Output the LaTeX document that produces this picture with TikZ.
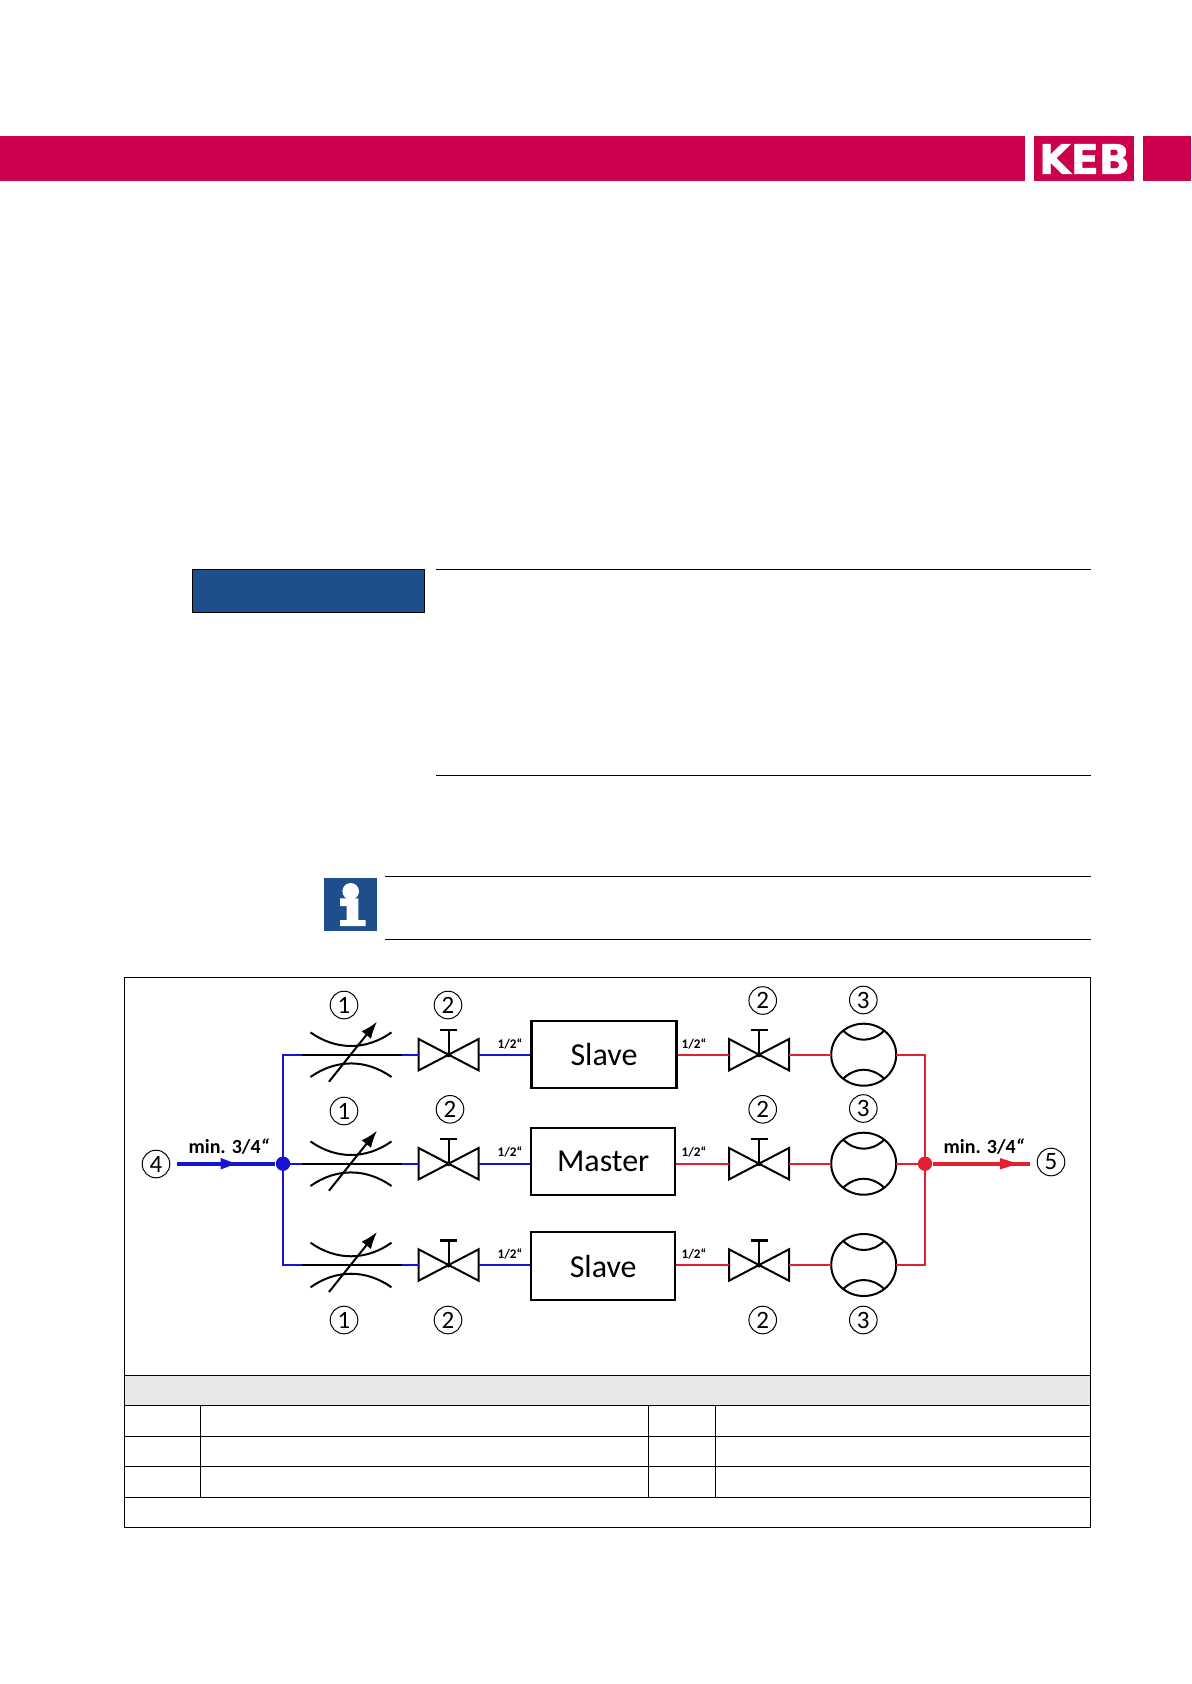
\documentclass[tikz,border=0pt]{standalone}
\usepackage{fontspec}
\setmainfont{Carlito}
\newfontfamily\logofont{DejaVu Sans Bold}[FakeBold=1.2]
\usetikzlibrary{arrows.meta}
\definecolor{kebred}{HTML}{CC004C}
\definecolor{kebblue}{HTML}{1F4E8C}
\definecolor{pipeblue}{HTML}{1414D2}
\definecolor{pipered}{HTML}{E2202F}
\tikzset{
  sym/.style={black,line width=1pt},
  blue pipe/.style={pipeblue,line width=0.8pt},
  red pipe/.style={pipered,line width=0.8pt},
  num/.style={draw,circle,inner sep=0pt,minimum size=13.8pt,line width=0.5pt,font=\fontsize{12.5}{12.5}\selectfont},
  plant/.style={draw,line width=1.15pt,inner sep=0pt,font=\fontsize{16}{16}\selectfont},
  size/.style={font=\fontsize{6.6}{6.6}\selectfont\bfseries,inner sep=0pt},
  mainsize/.style={font=\fontsize{10}{10}\selectfont\bfseries,inner sep=0pt},
  restrictor/.pic={
    \coordinate (-l) at (-49,0); \coordinate (-r) at (51,0);
    \draw[sym] (-l) -- (-r);
    \draw[sym] (-40.5,-22.3) .. controls (-15,-4.2) and (15,-4.2) .. (40.5,-22.3);
    \draw[sym] (-40.5,22.3) .. controls (-15,4.2) and (15,4.2) .. (40.5,22.3);
    \draw[sym,-{Latex[length=8.5pt,width=6pt]}] (-22,27) -- (26,-33);
  },
  valve/.pic={
    \coordinate (-l) at (-30,0); \coordinate (-r) at (30,0);
    \draw[sym] (-30,-15.7) -- (30,15.7) -- (30,-15.7) -- (-30,15.7) -- cycle;
    \draw[sym] (0,0) -- (0,-24.7);
    \draw[sym,line width=1.2pt] (-8.5,-24.7) -- (8.5,-24.7);
    \fill (0,0) circle (2.5);
  },
  gauge/.pic={
    \coordinate (-l) at (-32.5,0); \coordinate (-r) at (32.5,0);
    \draw[sym] (0,0) ellipse (32.5 and 31);
    \draw[sym] (-20.5,-24) .. controls (-8,-12) and (8,-12) .. (20.5,-24);
    \draw[sym] (-20.5,24) .. controls (-8,12) and (8,12) .. (20.5,24);
  },
}
\begin{document}
\begin{tikzpicture}[x=0.5pt,y=-0.5pt]
\useasboundingbox (0,0) rectangle (1191,1684);
% header
\fill[kebred] (0,136) rectangle (1025,181);
\fill[kebred] (1034,136) rectangle (1134,181);
\fill[kebred] (1143,136) rectangle (1191,181);
\node[white,inner sep=0pt] (logo) at (1084.5,159) {\logofont\fontsize{20.5}{20.5}\selectfont KEB};
% notice
\draw[fill=kebblue,line width=0.5pt] (192,569) rectangle (424,612);
\draw[line width=0.5pt] (436,569) -- (1091,569);
\draw[line width=0.5pt] (436,775) -- (1091,775);
\fill[kebblue] (324,878) rectangle (377,931);
\fill[white] (350.7,891.3) circle (8.3);
\fill[white] (340,898.3) -- (358.3,898.3) -- (358.3,920) -- (365.7,920) -- (365.7,926)
  -- (340,926) -- (340,920) -- (346.7,920) -- (346.7,906) -- (340,906) -- cycle;
\draw[line width=0.5pt] (385,876) -- (1091,876);
\draw[line width=0.5pt] (385,939) -- (1091,939);
% table
\fill[black!9] (124,1375) rectangle (1090.5,1405);
\draw[line width=0.45pt] (124,977) rectangle (1090.5,1527);
\draw[line width=0.45pt] (124,1375) -- (1090.5,1375);
\draw[line width=0.45pt] (124,1405) -- (1090.5,1405);
\draw[line width=0.45pt] (124,1436) -- (1090.5,1436);
\draw[line width=0.45pt] (124,1466) -- (1090.5,1466);
\draw[line width=0.45pt] (124,1497) -- (1090.5,1497);
\draw[line width=0.45pt] (200.5,1405) -- (200.5,1497);
\draw[line width=0.3pt] (648,1405) -- (648,1497);
\draw[line width=0.3pt] (715,1405) -- (715,1497);
% row 1
\pic (r1) at (351,1054.7) {restrictor};
\pic (v1) at (448.6,1054.7) {valve};
\node[plant,minimum width=72.5pt,minimum height=33.7pt] (s1) at (604,1054.5) {\raisebox{0.5pt}{Slave}};
\pic (w1) at (759,1054.7) {valve};
\pic (g1) at (863.7,1054.7) {gauge};
% row 2
\pic (r2) at (351,1163.7) {restrictor};
\pic (v2) at (448.6,1163.7) {valve};
\node[plant,minimum width=72pt,minimum height=33.8pt] (m2) at (603.2,1161.5) {\raisebox{0.5pt}{Master}};
\pic (w2) at (759,1163.7) {valve};
\pic (g2) at (863.7,1163.7) {gauge};
% row 3
\pic (r3) at (351,1265) {restrictor};
\pic (v3) at (448.6,1265) {valve};
\node[plant,minimum width=72pt,minimum height=33.8pt] (s3) at (603.2,1266) {Slave};
\pic (w3) at (759,1265) {valve};
\pic (g3) at (863.7,1265) {gauge};
% inlet
\node[fill=pipeblue,circle,inner sep=0pt,minimum size=7.2pt] (ji) at (283,1163.7) {};
\coordinate (in) at (177,1163.7);
\draw[pipeblue,line width=1.8pt] (in) -- (ji);
\fill[pipeblue] (220.7,1158) -- (236,1163.7) -- (220.7,1169.5) -- cycle;
\draw[blue pipe] (ji.center) |- (r1-l);
\draw[blue pipe] (ji.center) -- (r2-l);
\draw[blue pipe] (ji.center) |- (r3-l);
\draw[blue pipe] (r1-r) -- (v1-l);
\draw[blue pipe] (r2-r) -- (v2-l);
\draw[blue pipe] (r3-r) -- (v3-l);
\draw[blue pipe] (v1-r) -- (v1-r -| s1.west);
\draw[blue pipe] (v2-r) -- (v2-r -| m2.west);
\draw[blue pipe] (v3-r) -- (v3-r -| s3.west);
% outlet
\node[fill=pipered,circle,inner sep=0pt,minimum size=7.2pt] (jo) at (925,1163.7) {};
\coordinate (out) at (1030,1163.7);
\draw[red pipe] (w1-l -| s1.east) -- (w1-l);
\draw[red pipe] (w2-l -| m2.east) -- (w2-l);
\draw[red pipe] (w3-l -| s3.east) -- (w3-l);
\draw[red pipe] (w1-r) -- (g1-l);
\draw[red pipe] (w2-r) -- (g2-l);
\draw[red pipe] (w3-r) -- (g3-l);
\draw[red pipe] (g1-r) -| (jo.center);
\draw[red pipe] (g2-r) -- (jo.center);
\draw[red pipe] (g3-r) -| (jo.center);
\draw[pipered,line width=1.8pt] (jo) -- (out);
\fill[pipered] (1000,1158) -- (1018,1163.7) -- (1000,1169.5) -- cycle;
% labels
\node[mainsize] (l4) at (229,1147) {min. 3/4\textit{“}};
\node[mainsize] (l5) at (984,1147) {min. 3/4\textit{“}};
\node[size] (a1) at (510,1044) {1/2“};
\node[size] (a2) at (510,1152) {1/2“};
\node[size] (a3) at (510,1254) {1/2“};
\node[size] (b1) at (694,1044) {1/2“};
\node[size] (b2) at (694,1152) {1/2“};
\node[size] (b3) at (694,1254) {1/2“};
\node[num] (n11) at (344,1005) {1};
\node[num] (n12) at (448,1005) {2};
\node[num] (n13) at (762.7,1000.5) {2};
\node[num] (n14) at (863.3,1000) {3};
\node[num] (n21) at (344,1111) {1};
\node[num] (n22) at (450,1109.3) {2};
\node[num] (n23) at (762.7,1109.3) {2};
\node[num] (n24) at (863.3,1108.5) {3};
\node[num] (n31) at (344,1320) {1};
\node[num] (n32) at (448,1320) {2};
\node[num] (n33) at (762.7,1320) {2};
\node[num] (n34) at (863.3,1320) {3};
\node[num] (n4) at (156,1164) {4};
\node[num] (n5) at (1051,1162) {5};
\end{tikzpicture}
\end{document}
